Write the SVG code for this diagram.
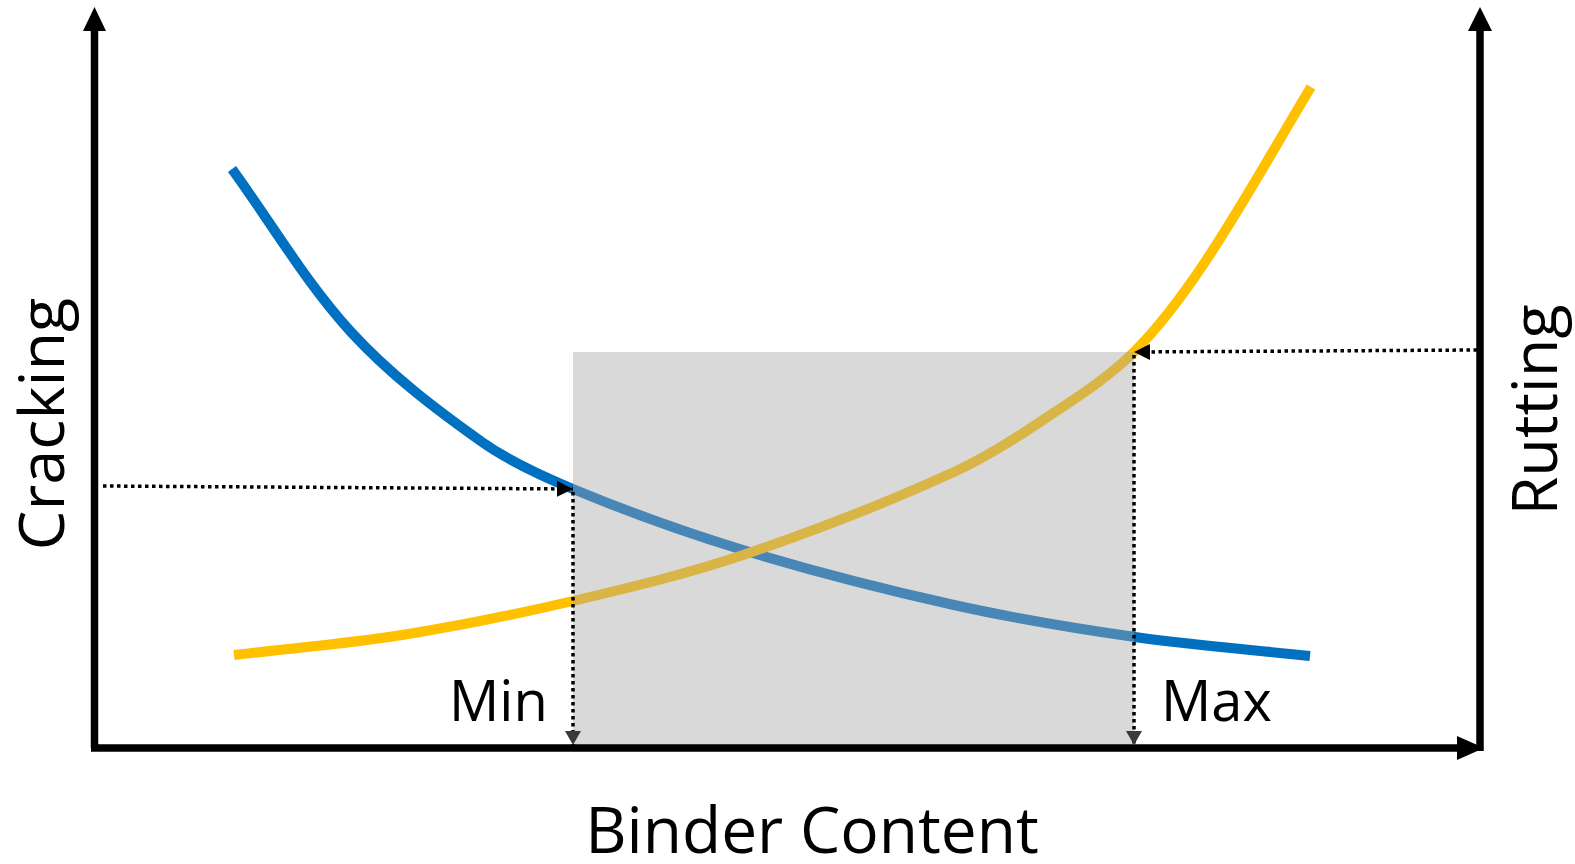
<svg xmlns="http://www.w3.org/2000/svg" width="1575" height="864" viewBox="0 0 1575 864">
<style>
.axis{stroke:#000;stroke-width:7.5;fill:none}
.curve{fill:none;stroke-width:10;stroke-linejoin:round;stroke-linecap:butt}
.dot{stroke:#000;stroke-width:3.5;stroke-dasharray:3.5 3.5;fill:none}
.lbl{font-family:"Open Sans","Noto Sans","Liberation Sans",sans-serif;fill:#000}
</style>
<defs>
<marker id="ah" markerUnits="userSpaceOnUse" markerWidth="20" markerHeight="18" refX="16" refY="8" orient="auto"><path d="M0,0 L16,8 L0,16 Z" fill="#000"/></marker>
<marker id="ahg" markerUnits="userSpaceOnUse" markerWidth="20" markerHeight="18" refX="14" refY="8" orient="auto"><path d="M0,0 L14,8 L0,16 Z" fill="#3a3a3a"/></marker>
</defs>
<g id="curves">
<path id="cracking-curve" class="curve" stroke="#0070C0" d="M232,169 C271.7,223.4 305.6,282.4 351,332 C389.5,374 435.5,409.1 482,442 C509.8,461.7 541.5,476 573,489 C628.6,512 685.4,532.5 743,550 C812.6,571.2 883,589.2 954,605 C1013.8,618.3 1074.3,628.3 1135,637 C1193.1,645.3 1251.7,649.7 1310,656"/>
<path id="rutting-curve" class="curve" stroke="#FFC000" d="M234,655 C290,648.3 346.3,643.9 402,635 C459.4,625.9 516.5,614.2 573,601 C630.1,587.6 687.4,573.8 743,555 C814.6,530.7 885.3,503.5 954,472 C989.6,455.7 1022.4,433.8 1055,412 C1082.5,393.6 1110.6,375.4 1134,352 C1161,325 1183.8,293.8 1205,262 C1242.9,205.3 1275.7,145.3 1311,87"/>
</g>
<rect id="range" x="573" y="352" width="561" height="396" fill="#A6A6A6" fill-opacity="0.43"/>
<g id="axes">
<line class="axis" x1="94.5" y1="748" x2="94.5" y2="28"/>
<path d="M94.5,7 L83,31 L106,31 Z" fill="#000"/>
<line class="axis" x1="1480" y1="751" x2="1480" y2="28"/>
<path d="M1480,7 L1468,31 L1492,31 Z" fill="#000"/>
<line class="axis" x1="91" y1="748" x2="1460" y2="748"/>
<path d="M1484,748 L1457,736 L1457,760 Z" fill="#000"/>
</g>
<g id="connectors">
<line class="dot" x1="103" y1="486" x2="573" y2="489" marker-end="url(#ah)"/>
<line class="dot" x1="573" y1="492" x2="573" y2="745" marker-end="url(#ahg)"/>
<line class="dot" x1="1477" y1="350" x2="1134" y2="352" marker-end="url(#ah)"/>
<line class="dot" x1="1134" y1="355" x2="1134" y2="745" marker-end="url(#ahg)"/>
</g>
<g id="labels">
<text class="lbl" font-size="63" text-anchor="middle" transform="translate(64,424) rotate(-90)">Cracking</text>
<text class="lbl" font-size="63" text-anchor="middle" transform="translate(1557,410) rotate(-90)">Rutting</text>
<text class="lbl" font-size="64" text-anchor="middle" x="812" y="853">Binder Content</text>
<text class="lbl" font-size="56" x="449" y="721">Min</text>
<text class="lbl" font-size="56" x="1161" y="721">Max</text>
</g>
</svg>
